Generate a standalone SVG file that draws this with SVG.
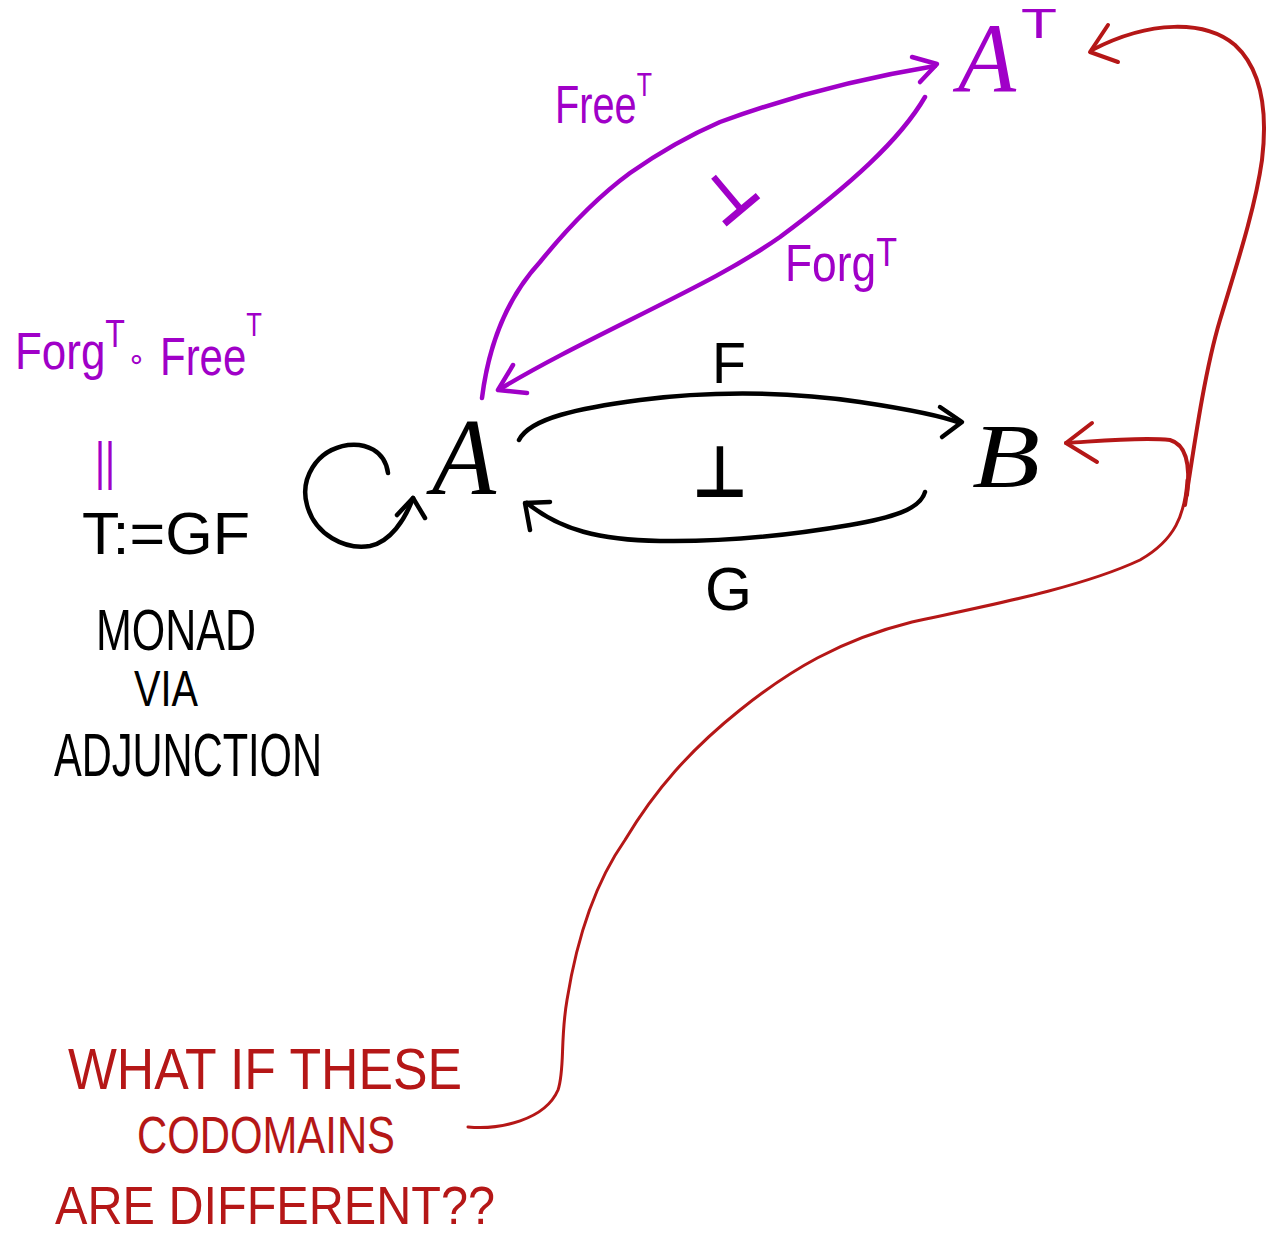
<svg xmlns="http://www.w3.org/2000/svg" width="1273" height="1234" viewBox="0 0 1273 1234">
<style>
.k{fill:none;stroke:#000;stroke-width:4.5;stroke-linecap:round;stroke-linejoin:round}
.p{fill:none;stroke:#a000c8;stroke-width:4.5;stroke-linecap:round;stroke-linejoin:round}
.r{fill:none;stroke:#b51717;stroke-width:3;stroke-linecap:round;stroke-linejoin:round}
.rt{stroke-width:4}
text{font-family:"Liberation Sans","DejaVu Sans",sans-serif}
.tk{fill:#000}
.tp{fill:#a000c8}
.tr{fill:#b51717}
.sc{font-family:"Liberation Serif","DejaVu Serif",serif;font-style:italic}
.sym{font-family:"DejaVu Sans",sans-serif}
</style>
<rect width="1273" height="1234" fill="#fff"/>

<g id="node-A">
<text class="tk sc" x="432" y="494" font-size="110" textLength="64" lengthAdjust="spacingAndGlyphs">A</text>
</g>
<g id="node-B">
<text class="tk sc" x="972" y="487" font-size="92" textLength="68" lengthAdjust="spacingAndGlyphs">B</text>
</g>
<g id="node-AT">
<text class="tp sc" x="958" y="92" font-size="100" textLength="58" lengthAdjust="spacingAndGlyphs">A</text>
<text class="tp" x="1021" y="38" font-size="42" textLength="36" lengthAdjust="spacingAndGlyphs">T</text>
</g>

<g id="connectors">
<path class="k" d="M388,473 C385,450 365,443 348,445 C315,450 300,480 307,505 C315,535 345,550 370,546 C390,542 405,520 413,498"/>
<path class="k" d="M397,515 L413,498 L425,518"/>
<path class="k" d="M519,440 C530,418 580,408 640,400 C700,392 780,390 860,402 C900,408 940,415 960,423"/>
<path class="k" d="M940,407 L962,422 L942,437"/>
<path class="k" d="M925,492 C920,510 890,518 850,525 C780,537 720,542 660,541 C600,540 560,530 527,503"/>
<path class="k" d="M550,502 L525,503 L530,530"/>
<path class="p" d="M482,398 C488,350 505,300 540,262 C570,225 600,195 630,173 C660,152 690,135 720,122 C780,100 850,80 935,66"/>
<path class="p" d="M912,57 L937,64 L920,82"/>
<path class="p" d="M925,97 C900,140 850,185 780,237 C740,265 700,285 630,320 C580,345 540,365 500,389"/>
<path class="p" d="M513,365 L498,390 L527,393"/>
<path class="r" d="M468,1127 C500,1130 545,1120 558,1090 C565,1070 560,1040 567,1000 C575,950 590,890 625,840 C655,790 690,750 740,710 C790,670 840,640 912,622 C990,605 1080,588 1140,560 C1175,540 1185,515 1187,480"/>
<path class="r rt" d="M1187,495 C1190,470 1188,445 1170,440 C1140,437 1100,441 1066,443"/>
<path class="r rt" d="M1092,423 L1066,443 L1097,462"/>
<path class="r rt" d="M1185,505 C1195,440 1205,370 1220,320 C1235,270 1255,210 1262,160 C1268,110 1262,70 1235,45 C1205,20 1150,20 1092,50"/>
<path class="r rt" d="M1108,25 L1090,52 L1118,62"/>
</g>

<g id="label-F"><text class="tk" x="712" y="383" font-size="58" textLength="34" lengthAdjust="spacingAndGlyphs">F</text></g>
<g id="label-G"><text class="tk" x="705" y="610" font-size="62" textLength="47" lengthAdjust="spacingAndGlyphs">G</text></g>
<g id="label-adj"><text class="tk sym" x="692" y="497" font-size="72" font-weight="bold" textLength="56" lengthAdjust="spacingAndGlyphs">⊥</text></g>

<g id="label-FreeT">
<text class="tp" x="555" y="123" font-size="54" textLength="97" lengthAdjust="spacingAndGlyphs">Free<tspan dy="-27" font-size="34">T</tspan></text>
</g>
<g id="label-ForgT">
<text class="tp" x="785" y="281" font-size="52" textLength="112" lengthAdjust="spacingAndGlyphs">Forg<tspan dy="-15" font-size="40">T</tspan></text>
</g>
<g id="label-adjT"><text class="tp sym" transform="translate(728,194) rotate(-40)" x="-27" y="24" font-size="66" font-weight="bold" textLength="54" lengthAdjust="spacingAndGlyphs">⊥</text></g>

<g id="note-composite">
<text class="tp" x="15" y="369" font-size="52" textLength="110" lengthAdjust="spacingAndGlyphs">Forg<tspan dy="-22" font-size="38">T</tspan></text>
<text class="tp sym" x="127" y="369" font-size="30">∘</text>
<text class="tp" x="160" y="375" font-size="54" textLength="102" lengthAdjust="spacingAndGlyphs">Free<tspan dy="-39" font-size="33">T</tspan></text>
<text class="tp" x="95" y="479" font-size="52" textLength="20" lengthAdjust="spacingAndGlyphs">||</text>
</g>

<g id="note-monad">
<text class="tk" x="82" y="554" font-size="60" textLength="168" lengthAdjust="spacingAndGlyphs">T:=GF</text>
<text class="tk" x="96" y="650" font-size="58" textLength="160" lengthAdjust="spacingAndGlyphs">MONAD</text>
<text class="tk" x="134" y="706" font-size="50" textLength="64" lengthAdjust="spacingAndGlyphs">VIA</text>
<text class="tk" x="54" y="776" font-size="62" textLength="268" lengthAdjust="spacingAndGlyphs">ADJUNCTION</text>
</g>

<g id="note-question">
<text class="tr" x="68" y="1089" font-size="58" textLength="394" lengthAdjust="spacingAndGlyphs">WHAT IF THESE</text>
<text class="tr" x="137" y="1153" font-size="52" textLength="258" lengthAdjust="spacingAndGlyphs">CODOMAINS</text>
<text class="tr" x="55" y="1224" font-size="54" textLength="440" lengthAdjust="spacingAndGlyphs">ARE DIFFERENT??</text>
</g>
</svg>
